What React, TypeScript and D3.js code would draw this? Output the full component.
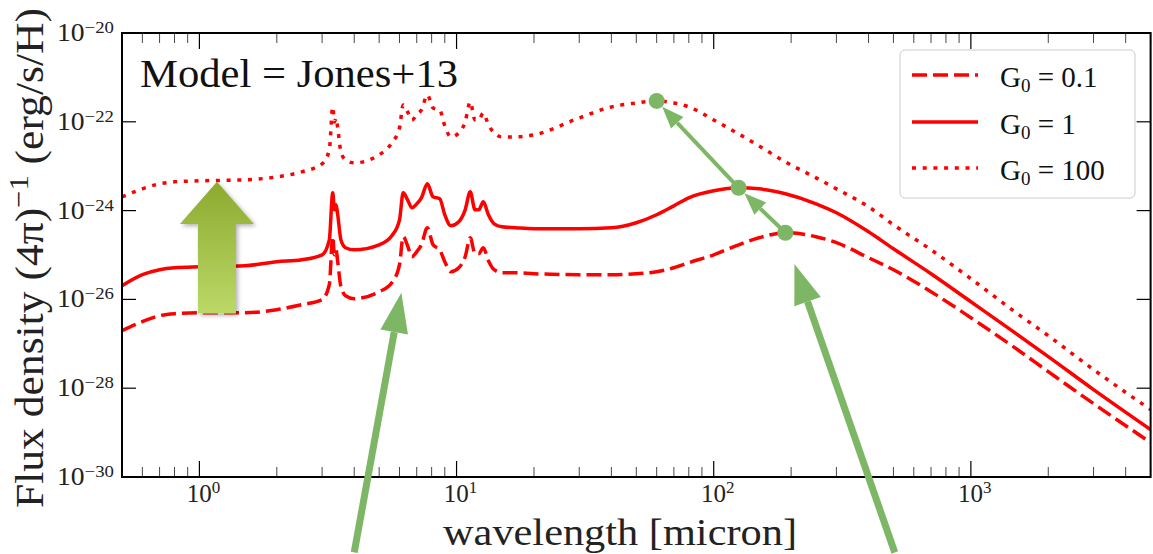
import React from 'react';
import * as d3 from 'd3';

// wavelength grid (micron)
const wavelength = [
  0.5, 0.6, 0.7, 0.8, 1.0, 1.5, 2.0, 2.5, 3.0, 3.2,
  3.3, 3.35, 3.4, 3.45, 3.55, 3.7, 4.0, 5.0, 5.6, 6.0,
  6.2, 6.45, 6.7, 7.0, 7.3, 7.7, 8.1, 8.6, 9.0, 9.5,
  10.2, 10.8, 11.3, 11.8, 12.2, 12.7, 13.3, 14, 15, 17,
  20, 30, 40, 50, 60, 70, 80, 100, 125, 150,
  190, 250, 300, 400, 500, 700, 1000, 1500, 2000, 3000,
  5000,
];

// G0 = 0.1 (dashed)
const fluxG0p1 = [
  1.98e-27, 3.15e-27, 4.3e-27, 4.77e-27, 5.02e-27, 5.02e-27, 5.86e-27, 7.6e-27, 9.84e-27, 2.14e-26,
  2.58e-25, 1.01e-25, 1.31e-25, 7.05e-26, 1.93e-26, 1.21e-26, 1.04e-26, 1.49e-26, 2.38e-26, 6.04e-26,
  2.58e-25, 1.62e-25, 9.14e-26, 1.18e-25, 1.7e-25, 4.1e-25, 1.7e-25, 1.31e-25, 7.05e-26, 4.2e-26,
  5.16e-26, 9.14e-26, 2.44e-25, 1.07e-25, 1.07e-25, 1.46e-25, 7.43e-26, 4.66e-26, 3.99e-26, 3.99e-26,
  3.79e-26, 3.6e-26, 3.6e-26, 3.79e-26, 4.2e-26, 5.16e-26, 6.7e-26, 1.01e-25, 1.7e-25, 2.44e-25,
  3.17e-25, 2.58e-25, 1.89e-25, 8.67e-26, 4.66e-26, 1.49e-26, 3.87e-27, 7.78e-28, 2.36e-28, 4.5e-29,
  5.97e-30,
];

// G0 = 1 (solid)
const fluxG1 = [
  2.03e-26, 3.6e-26, 4.66e-26, 5.16e-26, 5.44e-26, 5.73e-26, 7.05e-26, 7.82e-26, 1.01e-25, 2.2e-25,
  2.51e-24, 1.04e-24, 1.35e-24, 8.05e-25, 2.2e-25, 1.46e-25, 1.31e-25, 1.7e-25, 2.71e-25, 6.21e-25,
  2.51e-24, 1.75e-24, 1.16e-24, 1.42e-24, 1.94e-24, 4.01e-24, 2.04e-24, 1.84e-24, 8.05e-25, 4.55e-25,
  5.6e-25, 1.04e-24, 2.65e-24, 1.04e-24, 1.04e-24, 1.58e-24, 8.05e-25, 5.05e-25, 4.32e-25, 4.1e-25,
  3.9e-25, 3.9e-25, 4.1e-25, 5.32e-25, 8.05e-25, 1.28e-24, 1.94e-24, 2.79e-24, 3.26e-24, 3.09e-24,
  2.39e-24, 1.42e-24, 8.93e-25, 3.33e-25, 1.38e-25, 3.79e-26, 8.87e-27, 1.69e-27, 5.14e-28, 9.3e-29,
  1.17e-29,
];

// G0 = 100 (dotted)
const fluxG100 = [
  2.04e-24, 3.09e-24, 4.01e-24, 4.45e-24, 4.68e-24, 4.93e-24, 5.75e-24, 7.46e-24, 1.13e-23, 2.33e-23,
  2.16e-22, 9.95e-23, 1.22e-22, 7.3e-23, 2.1e-23, 1.39e-23, 1.19e-23, 1.8e-23, 3.35e-23, 7.3e-23,
  2.4e-22, 1.67e-22, 1.1e-22, 1.43e-22, 1.85e-22, 4.03e-22, 2.05e-22, 1.85e-22, 8.09e-23, 4.57e-23,
  5.62e-23, 9.95e-23, 2.8e-22, 1.1e-22, 1.1e-22, 1.58e-22, 8.51e-23, 5.62e-23, 4.57e-23, 4.57e-23,
  5.07e-23, 1.22e-22, 2.16e-22, 2.66e-22, 2.95e-22, 2.66e-22, 2.16e-22, 1.1e-22, 5.35e-23, 2.87e-23,
  1.25e-23, 5.47e-24, 3.09e-24, 1.22e-24, 4.8e-25, 1.31e-25, 2.92e-26, 5.02e-27, 1.52e-27, 2.62e-28,
  3.3e-29,
];

const seriesLabels = ['0.1', '1', '100'];
const seriesDash = ['15 6', '', '4 6.7'];
const xTickExponents = [0, 1, 2, 3];
const yTickExponents = [-30, -28, -26, -24, -22, -20];
const modelLabel = 'Model = Jones+13';

// annotation anchors in data space
const bigArrowA = { tail: [4.0, 10 ** -31.7], tip: [6.1, 10 ** -25.85] };
const bigArrowB = { tail: [506, 10 ** -31.7], tip: [206, 10 ** -25.2] };
const blockArrow = { lam: 1.17, top: 10 ** -23.35, neck: 10 ** -24.3, bottom: 10 ** -26.32 };

const FONT = '"Liberation Serif", "DejaVu Serif", serif';
const GREEN = '#7db766';
const RED = '#ff0000';

function arrowHead(tx: number, ty: number, fx: number, fy: number, len: number, wid: number) {
  const dx = tx - fx, dy = ty - fy;
  const d = Math.hypot(dx, dy);
  const ux = dx / d, uy = dy / d;
  const bx = tx - ux * len, by = ty - uy * len;
  const px = -uy, py = ux;
  return {
    base: [bx, by],
    points: `${tx},${ty} ${bx + px * wid / 2},${by + py * wid / 2} ${bx - px * wid / 2},${by - py * wid / 2}`,
  };
}

export default function App() {
  const left = 122, right = 1150.6, top = 33, bottom = 477;
  const x = d3.scaleLog().domain([0.5, 5000]).range([left, right]);
  const y = d3.scaleLog().domain([1e-30, 1e-20]).range([bottom, top]);

  const series = [fluxG0p1, fluxG1, fluxG100];
  const line = d3
    .line<number>()
    .x((_, i) => x(wavelength[i]))
    .y((d) => y(d))
    .curve(d3.curveMonotoneX);

  const allTicks = x.ticks();
  const majorTicks = xTickExponents.map((e) => 10 ** e);
  const minorTicks = allTicks.filter((t) => !majorTicks.some((m) => Math.abs(m - t) < 1e-9));

  // FIR peaks of each curve (lambda > 30 micron)
  const peaks = series.map((s) => {
    let bi = -1;
    s.forEach((v, i) => {
      if (wavelength[i] > 30 && (bi < 0 || v > s[bi])) bi = i;
    });
    return [x(wavelength[bi]), y(s[bi])];
  });

  const smallArrows = [
    [peaks[0], peaks[1]],
    [peaks[1], peaks[2]],
  ].map(([from, to]) => {
    const dx = to[0] - from[0], dy = to[1] - from[1];
    const d = Math.hypot(dx, dy);
    const tip = [to[0] - (dx / d) * 8, to[1] - (dy / d) * 8];
    const h = arrowHead(tip[0], tip[1], from[0], from[1], 22, 17);
    return { from, tip, h };
  });

  const bigArrows = [bigArrowA, bigArrowB].map((a) => {
    const t0 = [x(a.tail[0]), y(a.tail[1])];
    const t1 = [x(a.tip[0]), y(a.tip[1])];
    const h = arrowHead(t1[0], t1[1], t0[0], t0[1], 40, 28);
    return { t0, t1, h };
  });

  const bx = x(blockArrow.lam);
  const bTop = y(blockArrow.top), bNeck = y(blockArrow.neck), bBot = y(blockArrow.bottom);
  const blockPts = [
    [bx, bTop], [bx + 37, bNeck], [bx + 19, bNeck], [bx + 19, bBot],
    [bx - 19, bBot], [bx - 19, bNeck], [bx - 37, bNeck],
  ].map((p) => p.join(',')).join(' ');

  const legendY = [75, 122, 168];

  return (
    <svg width={1153} height={554} style={{ position: 'absolute', left: 0, top: 0, background: '#fff' }}
      fontFamily={FONT}>
      <defs>
        <clipPath id="plotclip">
          <rect x={left} y={top} width={right - left} height={bottom - top} />
        </clipPath>
        <linearGradient id="blockgrad" x1="0" y1="0" x2="0" y2="1">
          <stop offset="0%" stopColor="#8caa2f" />
          <stop offset="100%" stopColor="#bcd867" />
        </linearGradient>
        <filter id="shadow" x="-30%" y="-30%" width="160%" height="160%">
          <feDropShadow dx="2" dy="2" stdDeviation="2" floodColor="#000" floodOpacity="0.3" />
        </filter>
      </defs>
      <rect x={0} y={0} width={1153} height={554} fill="#fff" />

      {/* curves */}
      <g clipPath="url(#plotclip)">
        {series.map((s, i) => (
          <path key={i} d={line(s) || ''} fill="none" stroke={RED} strokeWidth={3.5}
            strokeDasharray={seriesDash[i] || undefined} strokeLinejoin="round" />
        ))}
      </g>

      {/* block arrow */}
      <polygon points={blockPts} fill="url(#blockgrad)" filter="url(#shadow)" />

      {/* ticks */}
      <g stroke="#000">
        {majorTicks.map((t) => (
          <g key={'M' + t}>
            <line x1={x(t)} x2={x(t)} y1={bottom} y2={bottom - 16} strokeWidth={1.2} />
            <line x1={x(t)} x2={x(t)} y1={top} y2={top + 16} strokeWidth={1.2} />
          </g>
        ))}
        {minorTicks.map((t) => (
          <g key={'m' + t}>
            <line x1={x(t)} x2={x(t)} y1={bottom} y2={bottom - 10} strokeWidth={0.9} stroke="#333" />
            <line x1={x(t)} x2={x(t)} y1={top} y2={top + 10} strokeWidth={0.9} stroke="#333" />
          </g>
        ))}
        {yTickExponents.map((e) => (
          <g key={'y' + e}>
            <line x1={left} x2={left + 14} y1={y(10 ** e)} y2={y(10 ** e)} strokeWidth={1.2} />
            <line x1={right} x2={right - 14} y1={y(10 ** e)} y2={y(10 ** e)} strokeWidth={1.2} />
          </g>
        ))}
      </g>
      <rect x={left} y={top} width={right - left} height={bottom - top} fill="none" stroke="#000" strokeWidth={2} />

      {/* y tick labels */}
      {yTickExponents.map((e) => (
        <text key={'yl' + e} x={114} y={y(10 ** e) + 8} textAnchor="end" fontSize={25} fill="#222"
          textLength={57} lengthAdjust="spacingAndGlyphs">
          10<tspan fontSize={17} dy={-8}>{'\u2212' + Math.abs(e)}</tspan>
        </text>
      ))}

      {/* x tick labels */}
      {xTickExponents.map((e) => (
        <text key={'xl' + e} x={x(10 ** e) + 4} y={502} textAnchor="middle" fontSize={25} fill="#222">
          10<tspan fontSize={17} dy={-9}>{e}</tspan>
        </text>
      ))}

      {/* axis labels */}
      <text x={443} y={545} fontSize={38} fill="#222" textLength={354} lengthAdjust="spacingAndGlyphs">
        wavelength [micron]
      </text>
      <text transform="translate(43,258) rotate(-90)" textAnchor="middle" fontSize={40} fill="#222"
        textLength={500} lengthAdjust="spacingAndGlyphs">
        Flux density (4π)<tspan fontSize={28} dy={-15}>{'\u22121'}</tspan>
        <tspan dy={15}> (erg/s/H)</tspan>
      </text>

      <text x={140} y={87} fontSize={40} fill="#111" textLength={318} lengthAdjust="spacingAndGlyphs">
        {modelLabel}
      </text>

      {/* legend */}
      <rect x={900} y={50} width={235} height={148} rx={5} fill="#fff" fillOpacity={0.85} stroke="#cccccc" strokeWidth={1} />
      {seriesLabels.map((lab, i) => (
        <g key={'lg' + i}>
          <line x1={912} x2={978} y1={legendY[i]} y2={legendY[i]} stroke={RED} strokeWidth={3.5}
            strokeDasharray={seriesDash[i] || undefined} />
          <text x={1000} y={legendY[i] + 12} fontSize={29} fill="#111">
            G<tspan fontSize={19} dy={5}>0</tspan><tspan dy={-5}>{' = ' + lab}</tspan>
          </text>
        </g>
      ))}

      {/* green big arrows */}
      {bigArrows.map((a, i) => (
        <g key={'ba' + i}>
          <line x1={a.t0[0]} y1={a.t0[1]} x2={a.h.base[0]} y2={a.h.base[1]} stroke={GREEN} strokeWidth={7} />
          <polygon points={a.h.points} fill={GREEN} />
        </g>
      ))}

      {/* small arrows and dots */}
      {smallArrows.map((a, i) => (
        <g key={'sa' + i}>
          <line x1={a.from[0]} y1={a.from[1]} x2={a.h.base[0]} y2={a.h.base[1]} stroke={GREEN} strokeWidth={4} />
          <polygon points={a.h.points} fill={GREEN} />
        </g>
      ))}
      {peaks.map((p, i) => (
        <circle key={'pk' + i} cx={p[0]} cy={p[1]} r={8} fill={GREEN} />
      ))}
    </svg>
  );
}
